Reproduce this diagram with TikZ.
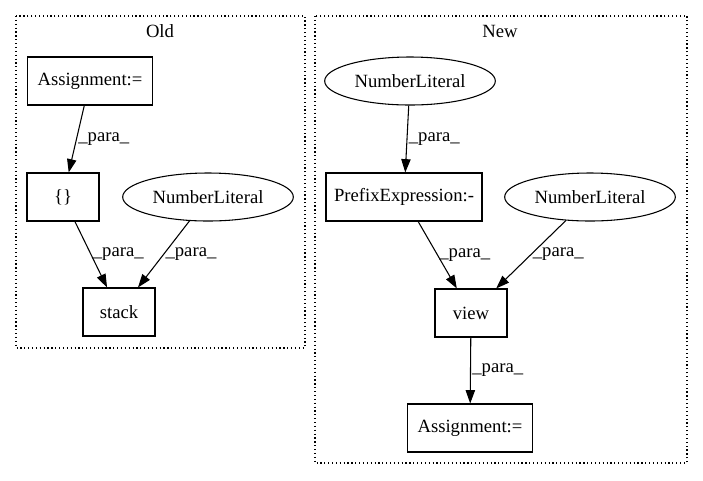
\documentclass[tikz,border=0pt]{standalone}
\usepackage{fontspec}
\setmainfont{Liberation Serif}
\usetikzlibrary{arrows.meta,shapes.geometric}

\tikzset{
  box/.style={draw, rectangle, minimum height=36pt, inner sep=2pt},
  lit/.style={draw, ellipse, minimum width=128pt, minimum height=36pt, inner sep=1pt},
  cluster/.style={draw, dotted, line width=0.9pt},
  lbl/.style={right, inner sep=1pt},
  para/.style={draw, -{Triangle[length=10pt,width=7pt]}},
}

\begin{document}
\begin{tikzpicture}[x=0.75pt, y=-0.75pt, line width=0.8pt, font=\fontsize{14}{16}\selectfont]
        \useasboundingbox (0,0) rectangle (703,480);

        % clusters
        \draw[cluster] (16,16) rectangle (305,348);
        \node (oldlbl) at (160,31) {Old};
        \draw[cluster] (315,16) rectangle (687,463);
        \node (newlbl) at (500,31) {New};

        % old
        \node[box, minimum width=94pt] (oldassign) at (90,81) {Assignment:=};
        \node[box, minimum width=54pt] (braces) at (63,197) {\{\}};
        \node[lit] (oldnum) at (208,197) {NumberLiteral};
        \node[box, minimum width=54pt] (stack) at (119,312) {stack};

        % new
        \node[lit] (numtop) at (410,81) {NumberLiteral};
        \node[box, minimum width=117pt] (prefix) at (404,197) {PrefixExpression:-};
        \node[lit] (numright) at (590,197) {NumberLiteral};
        \node[box, minimum width=54pt] (view) at (471,313) {view};
        \node[box, minimum width=94pt] (newassign) at (470,428) {Assignment:=};

        \path[para] (oldassign) -- node[lbl] {\_para\_} (braces);
        \path[para] (braces) -- node[lbl] {\_para\_} (stack);
        \path[para] (oldnum) -- node[lbl] {\_para\_} (stack);

        \path[para] (numtop) -- node[lbl] {\_para\_} (prefix);
        \path[para] (prefix) -- node[lbl] {\_para\_} (view);
        \path[para] (numright) -- node[lbl] {\_para\_} (view);
        \path[para] (view) -- node[lbl] {\_para\_} (newassign);
    \end{tikzpicture}
\end{document}
